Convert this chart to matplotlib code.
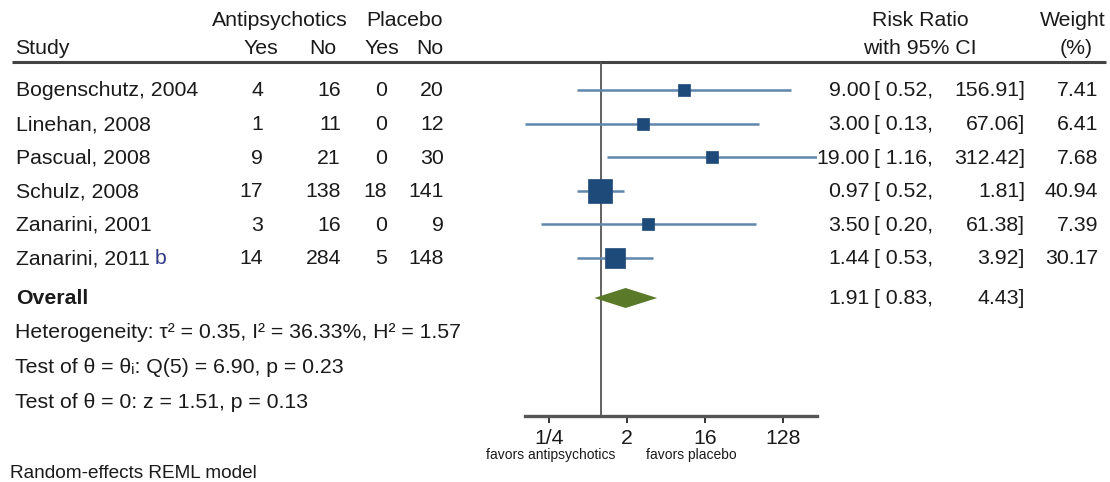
import matplotlib
matplotlib.use('Agg')
import matplotlib.pyplot as plt
import numpy as np

# Data
studies = ["Bogenschutz, 2004", "Linehan, 2008", "Pascual, 2008",
           "Schulz, 2008", "Zanarini, 2001", "Zanarini, 2011"]
ap_yes = [4, 1, 9, 17, 3, 14]
ap_no = [16, 11, 21, 138, 16, 284]
pl_yes = [0, 0, 0, 18, 0, 5]
pl_no = [20, 12, 30, 141, 9, 148]
rr = [9.00, 3.00, 19.00, 0.97, 3.50, 1.44]
ci_lo = [0.52, 0.13, 1.16, 0.52, 0.20, 0.53]
ci_hi = [156.91, 67.06, 312.42, 1.81, 61.38, 3.92]
weights = [7.41, 6.41, 7.68, 40.94, 7.39, 30.17]
overall = (1.91, 0.83, 4.43)
stats_lines = ["Heterogeneity: τ² = 0.35, I² = 36.33%, H² = 1.57",
               "Test of θ = θᵢ: Q(5) = 6.90, p = 0.23",
               "Test of θ = 0: z = 1.51, p = 0.13"]
tick_vals = [0.25, 2, 16, 128]
tick_labels = ["1/4", "2", "16", "128"]

W, H = 1110, 482
FONT = ['Liberation Sans', 'DejaVu Sans']
TXT = '#1a1a1a'
FS = 15.3

fig = plt.figure(figsize=(W / 100, H / 100), dpi=100)
fig.patch.set_facecolor('white')

# text layer in pixel coordinates
tab = fig.add_axes([0, 0, 1, 1])
tab.set_xlim(0, W)
tab.set_ylim(H, 0)
tab.axis('off')

def put(x, y, s, ha='left', **kw):
    kw.setdefault('fontsize', FS)
    kw.setdefault('color', TXT)
    tab.text(x, y, s, ha=ha, va='center', family=FONT, **kw)

# headers
put(280, 20, "Antipsychotics", ha='center')
put(404, 20, "Placebo", ha='center')
put(15, 48, "Study")
for x, s in zip([278, 336, 399, 443], ["Yes", "No", "Yes", "No"]):
    put(x, 48, s, ha='right')
put(920, 20, "Risk Ratio", ha='center')
put(920, 48, "with 95% CI", ha='center')
put(1073, 20, "Weight", ha='center')
put(1076, 48, "(%)", ha='center')
tab.plot([12, 1106], [62, 62], color='#444444', lw=2.2, solid_capstyle='butt')

row_y = 90 + 33.6 * np.arange(len(studies))
for i, y in enumerate(row_y):
    put(16, y + 1, studies[i])
    put(263, y + 1, str(ap_yes[i]), ha='right')
    put(341, y + 1, str(ap_no[i]), ha='right')
    put(387, y + 1, str(pl_yes[i]), ha='right')
    put(444, y + 1, str(pl_no[i]), ha='right')
    put(870, y + 1, f"{rr[i]:.2f}", ha='right')
    put(874, y + 1, f"[ {ci_lo[i]:.2f},")
    put(1025, y + 1, f"{ci_hi[i]:.2f}]", ha='right')
    put(1098, y + 1, f"{weights[i]:.2f}", ha='right')
put(155, row_y[-1] + 1, "b", color='#2f3a8a')

ov_y = 298
put(16, ov_y, "Overall", fontweight='bold')
put(870, ov_y, f"{overall[0]:.2f}", ha='right')
put(874, ov_y, f"[ {overall[1]:.2f},")
put(1025, ov_y, f"{overall[2]:.2f}]", ha='right')
for k, s in enumerate(stats_lines):
    put(15, 333 + 34.5 * k, s)

put(10, 474, "Random-effects REML model", fontsize=13.7)

# forest panel: y in same pixel units as text layer
x0, x1, ytop, ybot = 525, 817, 62, 416
fp = fig.add_axes([x0 / W, (H - ybot) / H, (x1 - x0) / W, (ybot - ytop) / H])
fp.set_xscale('log', base=2)
px_per = 26.0
one_px = 601.3
fp.set_xlim(2 ** ((x0 - one_px) / px_per), 2 ** ((x1 - one_px) / px_per))
fp.set_ylim(ybot, ytop)
fp.patch.set_alpha(0)
for s in ['top', 'left', 'right']:
    fp.spines[s].set_visible(False)
fp.spines['bottom'].set_linewidth(2.4)
fp.spines['bottom'].set_color('#555555')
fp.set_yticks([])
fp.set_xticks(tick_vals)
fp.set_xticklabels(tick_labels, family=FONT, fontsize=FS, color=TXT)
fp.minorticks_off()
fp.tick_params(axis='x', length=5, width=1.4, color='#333333', pad=4)

fp.axvline(1, color='#555555', lw=1.3, zorder=1)

for i, y in enumerate(row_y):
    fp.plot([ci_lo[i], ci_hi[i]], [y, y], color='#5f86ad', lw=1.8, zorder=2,
            solid_capstyle='butt')
    side = 4.4 + 2.91 * np.sqrt(weights[i])
    fp.plot(rr[i], y, marker='s', ms=side * 0.72, color='#1d4a78',
            mec='#1d4a78', mew=0.5, zorder=3)

est, lo, hi = overall
fp.fill([lo, est, hi, est], [ov_y, ov_y - 10, ov_y, ov_y + 10],
        color='#5a7a2a', zorder=3, lw=0)

tab.text(551, 455, "favors antipsychotics", ha='center', va='center',
         fontsize=10, color=TXT, family=FONT)
tab.text(691, 455, "favors placebo", ha='center', va='center',
         fontsize=10, color=TXT, family=FONT)

fig.savefig("out.png", dpi=100, facecolor='white')
